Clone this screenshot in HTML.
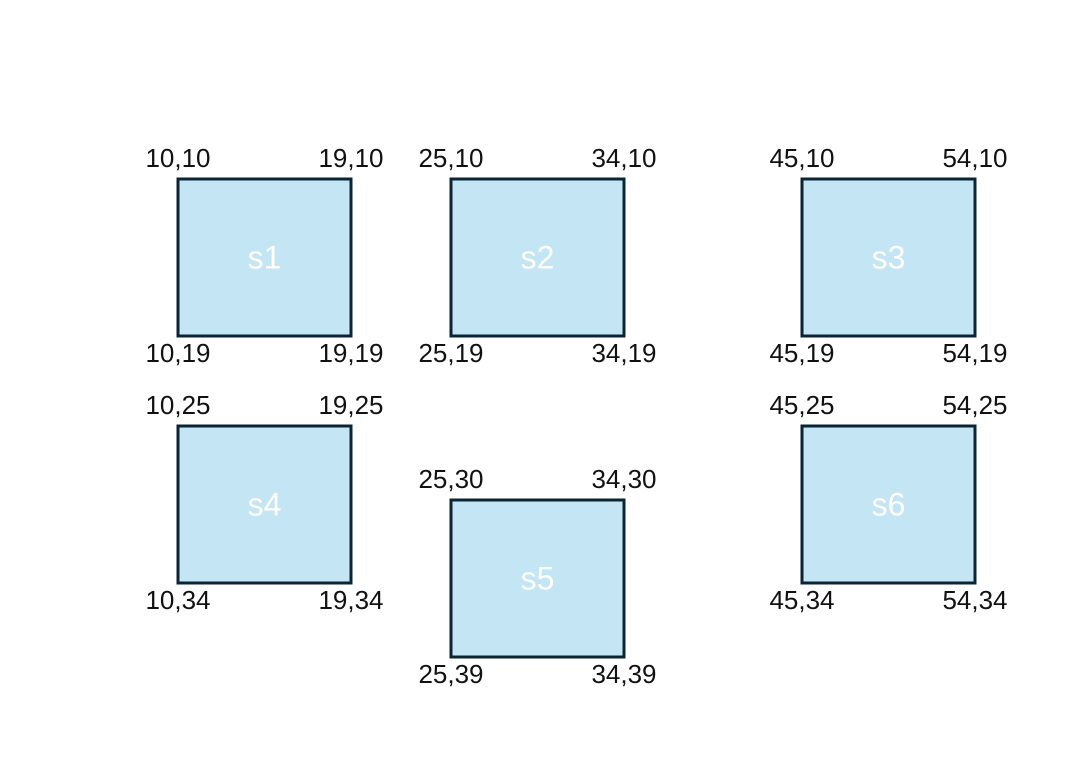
<!DOCTYPE html>
<html><head><meta charset="utf-8"><style>
html,body{margin:0;padding:0;background:#fff;}
svg text{font-family:"Liberation Sans Narrow","Liberation Sans",sans-serif;}
</style></head><body>
<svg id="chart" width="1088" height="767" viewBox="0 0 1088 767" xmlns="http://www.w3.org/2000/svg"></svg>
<script>
const names = ['s1','s2','s3','s4','s5','s6'];
const x0s = [10,25,45,10,25,45];
const y0s = [10,10,10,25,30,25];
const x1s = [19,34,54,19,34,54];
const y1s = [19,19,19,34,39,34];

// piecewise-linear axis scales (data units -> pixels)
function poly(dom, rng, unit){
  return function(v){
    let i = 0;
    for (let k=0;k<dom.length;k++) if (v>=dom[k]) i=k;
    return rng[i] + (v-dom[i])*unit;
  };
}
const xScale = poly([10,25,45],[178,451,802],173/9);
const yScale = poly([10,25,30],[179,426,500],157/9);

const svg = document.getElementById('chart');
const NS = 'http://www.w3.org/2000/svg';
function mk(tag, attrs){
  const e = document.createElementNS(NS, tag);
  for (const k in attrs) e.setAttribute(k, attrs[k]);
  svg.appendChild(e);
  return e;
}
names.forEach((n,i)=>{
  const x0=xScale(x0s[i]), x1=xScale(x1s[i]);
  const y0=yScale(y0s[i]), y1=y0+(y1s[i]-y0s[i])*157/9;
  const r = mk('rect',{x:x0,y:y0,width:x1-x0,height:y1-y0,fill:'#c3e5f4',stroke:'#0b2533','stroke-width':3});
  
  
  const t = mk('text',{x:(x0+x1)/2,y:(y0+y1)/2+11,'text-anchor':'middle','font-size':32,fill:'#ffffff'});
  t.textContent = n;
  
  
  const corners = [
    [x0, y0-12, x0s[i]+','+y0s[i], 'tl'],
    [x1, y0-12, x1s[i]+','+y0s[i], 'tr'],
    [x0, y1+26, x0s[i]+','+y1s[i], 'bl'],
    [x1, y1+26, x1s[i]+','+y1s[i], 'br']
  ];
  corners.forEach(c=>{
    const l = mk('text',{x:c[0],y:c[1],'text-anchor':'middle','font-size':26,fill:'#111'});
    l.textContent = c[2];
    
    
  });
});
</script>
</body></html>
